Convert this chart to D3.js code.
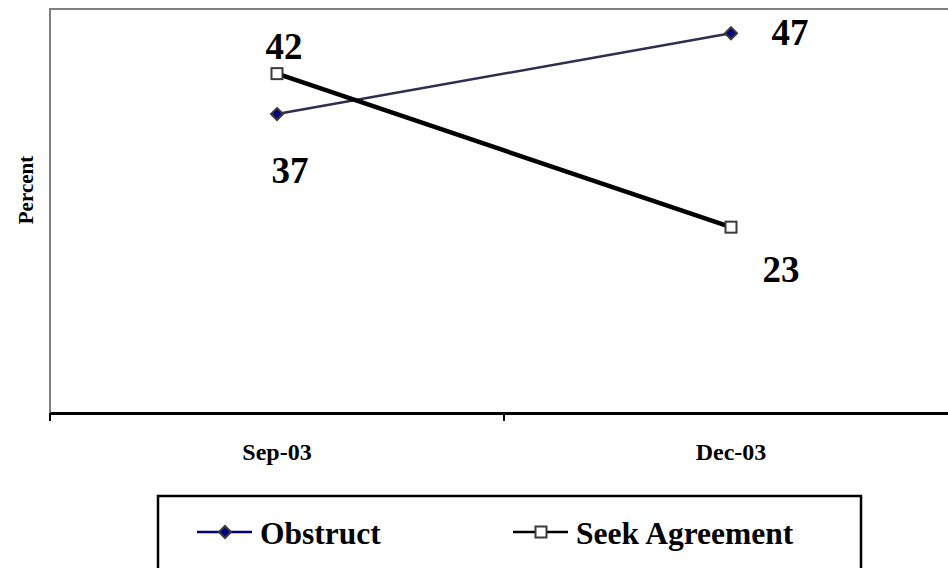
<!DOCTYPE html>
<html><head><meta charset="utf-8">
<script src="https://cdn.jsdelivr.net/npm/d3@7"></script>
<style>html,body{margin:0;padding:0;background:#fff;overflow:hidden}svg{display:block}</style>
</head><body>
<svg id="chart" width="948" height="568"></svg>
<script>
const categories = ["Sep-03", "Dec-03"];
const obstruct = [37, 47];
const seekAgreement = [42, 23];
const seriesNames = ["Obstruct", "Seek Agreement"];
const yLabel = "Percent";

(function () {
const svg = d3.select("#chart");
const font = "'Liberation Serif','Times New Roman',serif";
const pLeft = 50, pRight = 958, pTop = 9, pBottom = 413;

const x = d3.scaleBand().domain(categories).range([pLeft, pRight]);
const y = d3.scaleLinear().domain([0, 50]).range([pBottom, pTop]);
const cx = c => x(c) + x.bandwidth() / 2;

// plot frame (gray)
svg.append("rect").attr("x", pLeft).attr("y", pTop).attr("width", pRight - pLeft).attr("height", pBottom - pTop)
  .attr("fill", "none").attr("stroke", "#808080").attr("stroke-width", 2);

// x axis
const xAxis = svg.append("g").attr("transform", `translate(0,${pBottom})`)
  .call(d3.axisBottom(x).tickSize(0).tickPadding(30));
xAxis.select(".domain").attr("stroke", "#000").attr("stroke-width", 3);
xAxis.selectAll("text").attr("font-family", font).attr("font-weight", "bold")
  .attr("font-size", 24).attr("fill", "#000");
// tick marks at band boundaries
const bounds = categories.map(c => x(c)).concat([x(categories[categories.length - 1]) + x.bandwidth()]);
svg.append("g").selectAll("line").data(bounds).join("line")
  .attr("x1", d => d).attr("x2", d => d).attr("y1", pBottom).attr("y2", pBottom + 8)
  .attr("stroke", "#000").attr("stroke-width", 2);

// y label
svg.append("text").attr("transform", `translate(33,${(pTop + pBottom) / 2 - 21}) rotate(-90)`)
  .attr("text-anchor", "middle").attr("font-family", font).attr("font-weight", "bold")
  .attr("font-size", 21).text(yLabel);

// lines
const line = d3.line().x(d => cx(d.c)).y(d => y(d.v));
const obsData = categories.map((c, i) => ({c, v: obstruct[i]}));
const seekData = categories.map((c, i) => ({c, v: seekAgreement[i]}));

svg.append("path").datum(obsData).attr("d", line).attr("fill", "none")
  .attr("stroke", "#2e2e50").attr("stroke-width", 2.5);
svg.append("path").datum(seekData).attr("d", line).attr("fill", "none")
  .attr("stroke", "#000").attr("stroke-width", 4.5);

const diamond = (g, px, py) => g.append("path")
  .attr("d", `M${px},${py - 6}L${px + 6},${py}L${px},${py + 6}L${px - 6},${py}Z`)
  .attr("fill", "#000080").attr("stroke", "#3a3a3a").attr("stroke-width", 2);
const square = (g, px, py) => g.append("rect")
  .attr("x", px - 5.5).attr("y", py - 5.5).attr("width", 11).attr("height", 11)
  .attr("fill", "#fff").attr("stroke", "#3a3a3a").attr("stroke-width", 2);

obsData.forEach(d => diamond(svg, cx(d.c), y(d.v)));
seekData.forEach(d => square(svg, cx(d.c), y(d.v)));

// data labels
const lblOffsets = {
  obs: [[13, 69], [59, 12]],
  seek: [[7, -15], [50, 55]]
};
const lbl = (d, off) => svg.append("text").attr("x", cx(d.c) + off[0]).attr("y", y(d.v) + off[1])
  .attr("text-anchor", "middle").attr("font-family", font).attr("font-weight", "bold")
  .attr("font-size", 37).attr("fill", "#000").text(d.v);
obsData.forEach((d, i) => lbl(d, lblOffsets.obs[i]));
seekData.forEach((d, i) => lbl(d, lblOffsets.seek[i]));

// legend
svg.append("rect").attr("x", 158).attr("y", 496).attr("width", 703).attr("height", 120)
  .attr("fill", "#fff").attr("stroke", "#000").attr("stroke-width", 2.5);
const legY = 532;
const legItems = [
  {name: seriesNames[0], x0: 197, color: "#000080", w: 2.5, mk: diamond},
  {name: seriesNames[1], x0: 513, color: "#000", w: 2.5, mk: square}
];
legItems.forEach(it => {
  svg.append("line").attr("x1", it.x0).attr("x2", it.x0 + 55).attr("y1", legY).attr("y2", legY)
    .attr("stroke", it.color).attr("stroke-width", it.w);
  it.mk(svg, it.x0 + 28, legY);
  svg.append("text").attr("x", it.x0 + 63).attr("y", legY + 12).attr("font-family", font)
    .attr("font-weight", "bold").attr("font-size", 31.5).attr("fill", "#000").text(it.name);
});
})();
</script>
</body></html>
